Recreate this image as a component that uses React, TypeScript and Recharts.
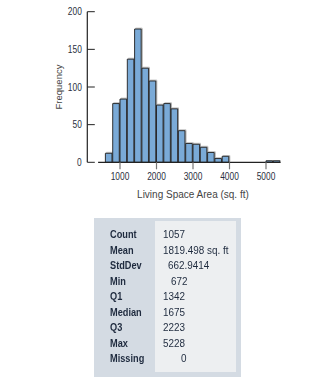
import { ComposedChart, Bar, XAxis, YAxis, ReferenceLine } from "recharts";

// histogram bins (lower edge, sq. ft) and their counts
const binWidth = 200;
const binLow = [600, 800, 1000, 1200, 1400, 1600, 1800, 2000, 2200, 2400, 2600, 2800, 3000, 3200, 3400, 3600, 3800, 5000, 5200];
const counts = [12, 78, 84, 137, 177, 125, 108, 76, 78, 71, 42, 25, 24, 20, 13, 5, 8, 2, 2];

const xTicks = [1000, 2000, 3000, 4000, 5000];
const yTicks = [0, 50, 100, 150, 200];

const statLabels = ["Count", "Mean", "StdDev", "Min", "Q1", "Median", "Q3", "Max", "Missing"];
const statValues = ["1057", "1819.498 sq. ft", "662.9414", "672", "1342", "1675", "2223", "5228", "0"];
const valueIndent = [0, 0, 4.5, 7.5, 0, 0, 0, 0, 18];

const data = binLow.map((lo, i) => ({ mid: lo + binWidth / 2, count: counts[i] }));

const FONT = "'Liberation Sans', Arial, Helvetica, sans-serif";
const INK = "#2b3040";
const SQUEEZE = 0.84;

// layout
const W = 328;
const H = 200;
const margin = { top: 11.7, right: 47.4, left: 47.3, bottom: 0 };
const yAxisW = 40;
const xDomain: [number, number] = [104, 5400];
const plotW = W - margin.left - margin.right - yAxisW;
const barPx = (binWidth * plotW) / (xDomain[1] - xDomain[0]);

const YTick = (props: any) => {
  const { x, y, payload } = props;
  return (
    <g>
      <text
        transform={`translate(${x},${y}) scale(${SQUEEZE},1)`}
        dy={3.5}
        textAnchor="end"
        fill={INK}
        fontSize={10}
        fontFamily={FONT}
      >
        {payload.value}
      </text>
      <line x1={x + 5.5} x2={x + 13} y1={y} y2={y} stroke="#222" strokeWidth={1} />
    </g>
  );
};

const XTick = (props: any) => {
  const { x, y, payload } = props;
  return (
    <text
      transform={`translate(${x},${y}) scale(${SQUEEZE},1)`}
      dy={8}
      textAnchor="middle"
      fill={INK}
      fontSize={10}
      fontFamily={FONT}
    >
      {payload.value}
    </text>
  );
};

const squeezed = (scale: number): any => ({
  display: "inline-block",
  transform: `scaleX(${scale})`,
  transformOrigin: "left center",
  whiteSpace: "nowrap",
});

export default function App() {
  return (
    <div style={{ position: "absolute", left: 0, top: 0, width: W, height: 387, background: "#fff" }}>
      <ComposedChart width={W} height={H} data={data} margin={margin} barGap={0} barCategoryGap={0}>
        <defs>
          <filter id="barShadow" x="-20%" y="-20%" width="140%" height="140%">
            <feDropShadow dx={1} dy={-0.6} stdDeviation={0.3} floodColor="#888" floodOpacity={0.8} />
          </filter>
        </defs>
        <XAxis
          dataKey="mid"
          type="number"
          domain={xDomain}
          ticks={xTicks}
          interval={0}
          allowDataOverflow
          axisLine={false}
          tickSize={7}
          tickMargin={3}
          tickLine={{ stroke: "#777", strokeWidth: 1.2 }}
          tick={<XTick />}
          height={H - margin.top - 150.6}
          label={{ value: "Living Space Area (sq. ft)", position: "insideBottom", offset: 2, dx: 9, fill: "#444", fontSize: 10, fontFamily: FONT }}
        />
        <YAxis
          domain={[0, 200]}
          ticks={yTicks}
          interval={0}
          width={yAxisW}
          tickLine={false}
          tickSize={0}
          tickMargin={5.5}
          axisLine={{ stroke: "#222", strokeWidth: 1.2 }}
          tick={<YTick />}
          label={{ value: "Frequency", angle: -90, position: "center", dx: -9, fill: "#444", fontSize: 9.5, fontFamily: FONT }}
        />
        <ReferenceLine segment={[{ x: 400, y: 0 }, { x: 5400, y: 0 }]} stroke="#222" strokeWidth={1.2} ifOverflow="visible" />
        <Bar
          dataKey="count"
          barSize={barPx}
          fill="#7aaad7"
          stroke="#1e1e1e"
          strokeWidth={0.9}
          filter="url(#barShadow)"
          isAnimationActive={false}
        />
      </ComposedChart>

      <div
        style={{
          position: "absolute",
          left: 94,
          top: 217.7,
          width: 146.7,
          height: 159,
          background: "#d4dbe3",
        }}
      >
        <div
          style={{
            position: "absolute",
            left: 61,
            top: 3.3,
            width: 80.7,
            height: 150.7,
            background: "#edeff1",
          }}
        />
        <div style={{ position: "absolute", left: 0, top: 9.6, width: 146.7 }}>
          {statLabels.map((lab, i) => (
            <div key={lab} style={{ position: "relative", height: 15.5, lineHeight: "15.5px", fontFamily: FONT, fontSize: 11.5, color: "#1e2a3e" }}>
              <span style={{ position: "absolute", left: 16, fontWeight: 700 }}>
                <span style={squeezed(0.8)}>{lab}</span>
              </span>
              <span style={{ position: "absolute", left: 69 + valueIndent[i] }}>
                <span style={squeezed(0.86)}>{statValues[i]}</span>
              </span>
            </div>
          ))}
        </div>
      </div>
    </div>
  );
}
